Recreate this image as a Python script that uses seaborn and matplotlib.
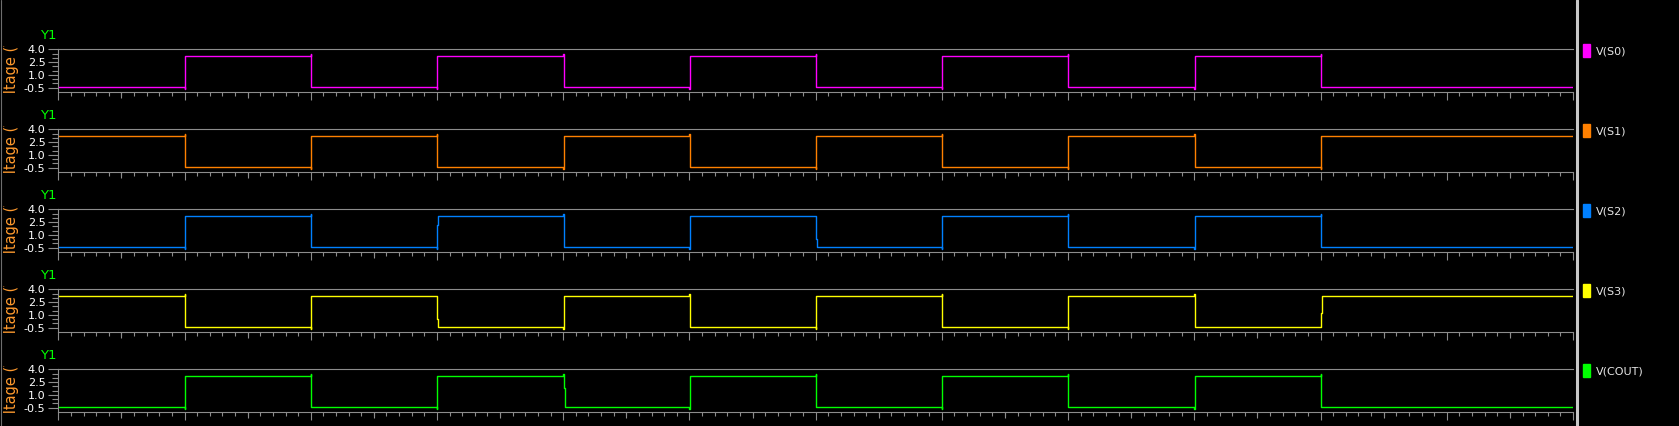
import matplotlib
matplotlib.use("Agg")
import matplotlib.pyplot as plt
import seaborn as sns
from matplotlib.patches import Patch
from matplotlib.lines import Line2D
from matplotlib.ticker import MultipleLocator, FixedLocator, FormatStrFormatter, NullFormatter
from matplotlib.transforms import Bbox, TransformedBbox

# waveform breakpoints (time units, volts), drawn as steps
s0_t = [0, 1, 1.003, 2, 2.003, 3, 3.003, 4, 4.003, 5, 5.003, 6, 6.003, 7, 7.003, 8, 8.003, 9, 9.003, 10, 10.003, 12]
s0_v = [-0.45, -0.65, 3.2, 3.45, -0.45, -0.65, 3.2, 3.45, -0.45, -0.65, 3.2, 3.45, -0.45, -0.65, 3.2, 3.45, -0.45, -0.65, 3.2, 3.45, -0.45, -0.45]

s1_t = [0, 1, 1.003, 2, 2.003, 3, 3.003, 4, 4.003, 5, 5.003, 6, 6.003, 7, 7.003, 8, 8.003, 9, 9.003, 10, 10.003, 12]
s1_v = [3.2, 3.45, -0.45, -0.65, 3.2, 3.45, -0.45, -0.65, 3.2, 3.45, -0.45, -0.65, 3.2, 3.45, -0.45, -0.65, 3.2, 3.45, -0.45, -0.65, 3.2, 3.2]

s2_t = [0, 1, 1.003, 2, 2.003, 3, 3.003, 3.011, 4, 4.003, 5, 5.003, 6, 6.008, 7, 7.003, 8, 8.003, 9, 9.003, 10, 10.003, 12]
s2_v = [-0.45, -0.65, 3.2, 3.45, -0.45, -0.65, 2.16, 3.2, 3.45, -0.45, -0.65, 3.2, 0.52, -0.45, -0.65, 3.2, 3.45, -0.45, -0.65, 3.2, 3.45, -0.45, -0.45]

s3_t = [0, 1, 1.003, 2, 2.003, 3, 3.008, 4, 4.003, 5, 5.003, 6, 6.003, 7, 7.003, 8, 8.003, 9, 9.003, 10, 10.008, 12]
s3_v = [3.2, 3.45, -0.45, -0.65, 3.2, 0.52, -0.45, -0.65, 3.2, 3.45, -0.45, -0.65, 3.2, 3.45, -0.45, -0.65, 3.2, 3.45, -0.45, 1.26, 3.2, 3.2]

cout_t = [0, 1, 1.003, 2, 2.003, 3, 3.003, 4, 4.003, 4.011, 5, 5.003, 6, 6.003, 7, 7.003, 8, 8.003, 9, 9.003, 10, 10.003, 12]
cout_v = [-0.45, -0.65, 3.2, 3.45, -0.45, -0.65, 3.2, 3.45, 1.77, -0.45, -0.65, 3.2, 3.45, -0.45, -0.65, 3.2, 3.45, -0.45, -0.65, 3.2, 3.45, -0.45, -0.45]

names = ["V(S0)", "V(S1)", "V(S2)", "V(S3)", "V(COUT)"]
colors = ["#ff00ff", "#ff8000", "#0080ff", "#ffff00", "#00ff00"]
ytick_major = [-0.5, 1.0, 2.5, 4.0]

W, H = 1679, 426
GRAY = "#8c8c8c"


def main():
    sns.set_theme(style="dark", rc={"axes.facecolor": "black", "figure.facecolor": "black"})
    plt.rcParams["font.family"] = ["DejaVu Sans"]

    fig = plt.figure(figsize=(W / 100, H / 100), dpi=100)
    series = [(s0_t, s0_v), (s1_t, s1_v), (s2_t, s2_v), (s3_t, s3_v), (cout_t, cout_v)]

    left, right = 58.3, 1573.0
    ax_h = 42.4
    for i, ((t, v), name, col) in enumerate(zip(series, names, colors)):
        top = 49.3 + 80 * i
        ax = fig.add_axes([left / W, 1 - (top + ax_h) / H, (right - left) / W, ax_h / H])
        sns.lineplot(x=t, y=v, ax=ax, color=col, lw=1.0, drawstyle="steps-post",
                     estimator=None, sort=False)
        ax.set_xlim(0, 12)
        ax.set_ylim(-0.97, 4.0)
        ax.set_xlabel("")
        ax.set_ylabel("")
        ax.grid(False)

        for s in ["left", "top", "bottom"]:
            ax.spines[s].set_color(GRAY)
            ax.spines[s].set_linewidth(0.8)
        ax.spines["right"].set_visible(False)

        ax.xaxis.set_major_locator(MultipleLocator(1))
        ax.xaxis.set_minor_locator(MultipleLocator(0.1))
        ax.xaxis.set_major_formatter(NullFormatter())
        ax.tick_params(axis="x", which="major", length=5.5, width=0.8, color=GRAY, direction="out", bottom=True)
        ax.tick_params(axis="x", which="minor", length=2.6, width=0.8, color=GRAY, direction="out", bottom=True)

        sec = ax.secondary_xaxis("bottom")
        sec.xaxis.set_major_locator(FixedLocator([k + 0.5 for k in range(12)]))
        sec.xaxis.set_major_formatter(NullFormatter())
        sec.tick_params(length=4.1, width=0.8, color=GRAY, direction="out")
        sec.spines["bottom"].set_visible(False)

        ax.yaxis.set_major_locator(FixedLocator(ytick_major))
        ax.yaxis.set_minor_locator(MultipleLocator(0.5))
        ax.yaxis.set_major_formatter(FormatStrFormatter("%.1f"))
        ax.tick_params(axis="y", which="major", length=7.2, width=0.8, color=GRAY, direction="out",
                       left=True, labelsize=8, labelcolor="white", pad=2)
        ax.tick_params(axis="y", which="minor", length=4, width=0.8, color=GRAY, direction="out", left=True)

        ax.annotate("Y1", xy=(0, 1), xycoords="axes fraction", xytext=(-7, 10),
                    textcoords="offset points", ha="center", va="center",
                    color="#00ff00", fontsize=9.5)

        # axis title is clipped by the panel height, as in the viewer
        yc = 1 - (top + 21) / H
        lab = fig.text(12 / W, yc, "Voltage (V)", rotation=90, ha="center", va="center",
                       color="#ff9a2e", fontsize=10.5)
        lab.set_clip_on(True)
        lab.set_clip_box(TransformedBbox(
            Bbox.from_extents(0, 1 - (top + ax_h + 1.5) / H, 30 / W, 1 - (top - 3) / H),
            fig.transFigure))

        ax.legend(handles=[Patch(color=col, label=name)], loc="center left",
                  bbox_to_anchor=(1583.3 / W, 1 - (top + 1.2) / H),
                  bbox_transform=fig.transFigure, frameon=False, borderpad=0,
                  borderaxespad=0, handlelength=0.6, handleheight=1.3,
                  handletextpad=0.5, fontsize=8, labelcolor="#e6e6e6")

    # window frame lines
    fig.add_artist(Line2D([1577 / W, 1577 / W], [0, 1], color="#c8c8c8", lw=2.2,
                          transform=fig.transFigure))
    fig.add_artist(Line2D([0.5 / W, 0.5 / W], [0, 1], color="#6e6e6e", lw=0.8,
                          transform=fig.transFigure))

    fig.savefig("out.png", dpi=100, facecolor="black")


if __name__ == "__main__":
    main()
